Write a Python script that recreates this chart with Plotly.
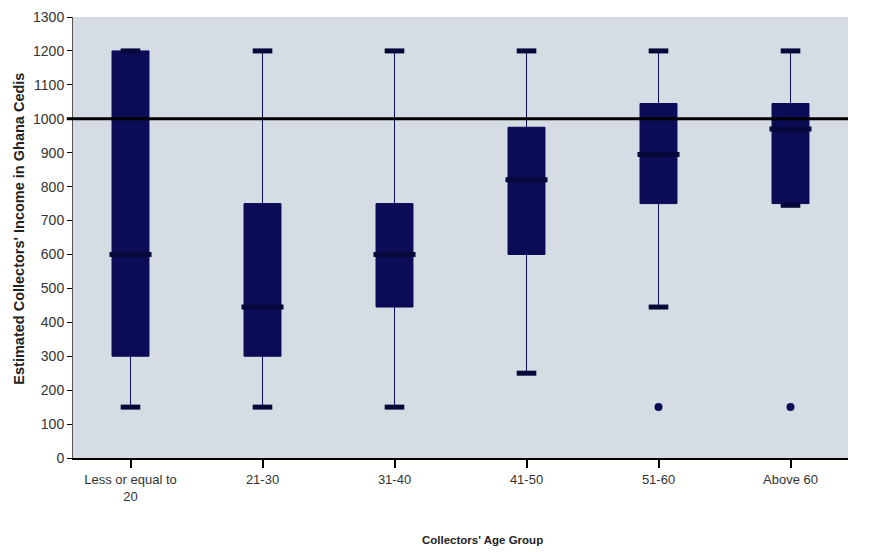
import plotly.graph_objects as go

categories = ["Less or equal to<br>20", "21-30", "31-40", "41-50", "51-60", "Above 60"]
lower = [150, 150, 150, 250, 445, 745]
q1 = [300, 300, 445, 600, 750, 750]
median = [600, 445, 600, 820, 895, 970]
q3 = [1200, 750, 750, 975, 1045, 1045]
upper = [1200, 1200, 1200, 1200, 1200, 1200]
outlier_cats = ["51-60", "Above 60"]
outlier_vals = [150, 150]
reference_level = 1000

navy = "#0b0b56"
median_color = "#07073a"
font_family = "Liberation Sans, Arial, sans-serif"

fig = go.Figure()
fig.add_trace(go.Box(
    x=categories, q1=q1, median=median, q3=q3,
    lowerfence=lower, upperfence=upper,
    fillcolor=navy, line=dict(color=navy, width=1),
    whiskerwidth=0, width=0.28, boxpoints=False, showlegend=False,
    hoverinfo="skip",
))
# whisker caps
fig.add_trace(go.Scatter(
    x=categories + categories, y=lower + upper, mode="markers",
    marker=dict(symbol="line-ew-open", size=14, color=median_color, line=dict(color=median_color, width=5)),
    showlegend=False, hoverinfo="skip",
))
# thick medians
fig.add_trace(go.Scatter(
    x=categories, y=median, mode="markers",
    marker=dict(symbol="line-ew-open", size=30, color=median_color, line=dict(color=median_color, width=5)),
    showlegend=False, hoverinfo="skip",
))
# outliers
fig.add_trace(go.Scatter(
    x=outlier_cats, y=outlier_vals, mode="markers",
    marker=dict(symbol="circle", size=8, color=navy),
    showlegend=False, hoverinfo="skip",
))

fig.add_shape(type="line", xref="paper", yref="y", x0=-0.008, x1=1, y0=reference_level, y1=reference_level,
              line=dict(color="black", width=3))

fig.add_annotation(text="<b>Collectors' Age Group</b>", xref="paper", yref="paper",
                   x=0.529, y=-0.186, xanchor="center", yanchor="middle", showarrow=False,
                   font=dict(size=11.5, color="#222222"))
fig.add_annotation(text="<b>Estimated Collectors' Income in Ghana Cedis</b>", xref="paper", yref="paper",
                   x=-0.0697, y=0.52, xanchor="center", yanchor="middle", showarrow=False, textangle=-90,
                   font=dict(size=14.5, color="#222222"))

fig.update_layout(
    width=862, height=544,
    margin=dict(l=65, r=22, t=9, b=94),
    paper_bgcolor="white", plot_bgcolor="#d5dce4",
    font=dict(family=font_family, color="#333333", size=13),
)
fig.update_xaxes(
    type="category", categoryorder="array", categoryarray=categories,
    automargin=False,
    showgrid=False, showline=True, linecolor="black", linewidth=2,
    ticks="outside", ticklen=8, tickwidth=2, tickcolor="black",
    tickfont=dict(size=13, color="#333333"),
)
fig.update_yaxes(
    range=[0, 1300], tickvals=list(range(0, 1301, 100)),
    automargin=False,
    showgrid=False, zeroline=False, showline=True, linecolor="#555555", linewidth=1,
    ticks="outside", ticklen=5, tickwidth=1, tickcolor="black",
    tickfont=dict(size=14, color="#333333"),
)

fig.write_html("out.html")
